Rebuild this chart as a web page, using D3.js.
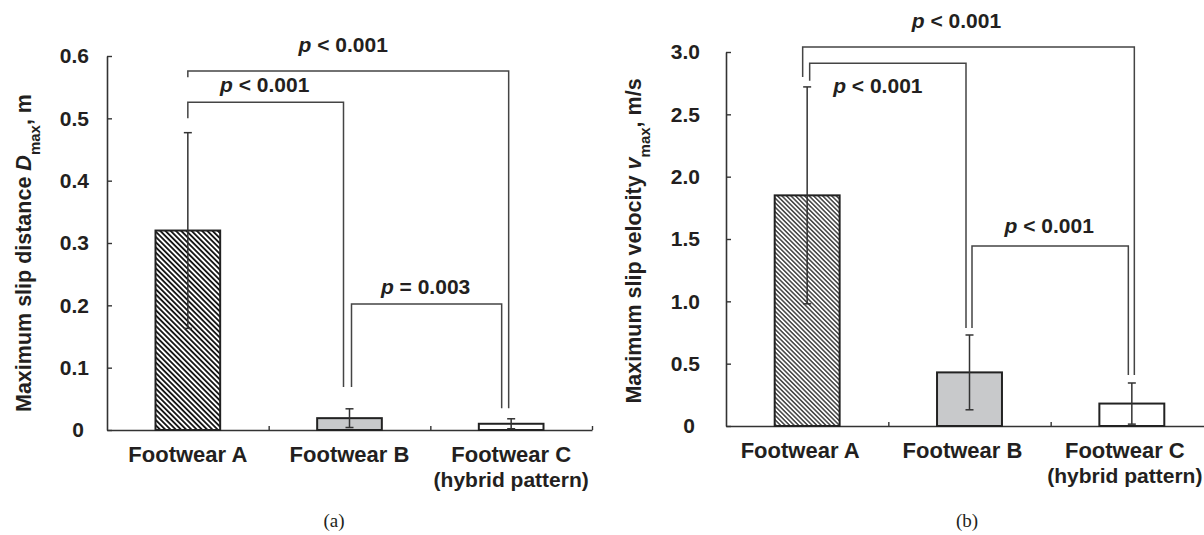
<!DOCTYPE html>
<html>
<head>
<meta charset="utf-8">
<script src="https://cdn.jsdelivr.net/npm/d3@7"></script>
<style>
  body { margin: 0; background: #fff; }
  text { font-family: "Liberation Sans", Arial, sans-serif; font-weight: bold; fill: #231f20; }
  .panel-tag { font-family: "Liberation Serif", "Times New Roman", serif; font-weight: normal; }
</style>
</head>
<body>
<div id="chart"></div>
<script>
// Data
const categories = ["Footwear A", "Footwear B", "Footwear C\n(hybrid pattern)"];

const distMean = [0.32, 0.019, 0.010];
const distSD = [0.157, 0.015, 0.008];
const distTicks = [0, 0.1, 0.2, 0.3, 0.4, 0.5, 0.6];

const velMean = [1.85, 0.43, 0.18];
const velSD = [0.87, 0.30, 0.165];
const velTicks = [0, 0.5, 1.0, 1.5, 2.0, 2.5, 3.0];

// significance brackets: from/to category index, height of bar line, leg end values, label
const distBrackets = [
  {from: 0, to: 2, top: 0.576, end1: 0.566, end2: 0.035, label: ["<", "0.001"]},
  {from: 0, to: 1, top: 0.526, end1: 0.50, end2: 0.069, label: ["<", "0.001"]},
  {from: 1, to: 2, top: 0.202, end1: 0.069, end2: 0.035, label: ["=", "0.003"]}
];
const velBrackets = [
  {from: 0, to: 2, top: 3.04, end1: 2.80, end2: 0.41, label: ["<", "0.001"]},
  {from: 0, to: 1, top: 2.91, end1: 2.77, end2: 0.786, label: ["<", "0.001"]},
  {from: 1, to: 2, top: 1.444, end1: 0.786, end2: 0.41, label: ["<", "0.001"]}
];

const W = 1204, H = 535;
const svg = d3.select("#chart").append("svg")
    .attr("width", W)
    .attr("height", H);

// hatch patterns for footwear A
const defs = svg.append("defs");
function hatch(id, size, sw) {
  defs.append("pattern")
      .attr("id", id)
      .attr("patternUnits", "userSpaceOnUse")
      .attr("width", size)
      .attr("height", size)
      .attr("patternTransform", "rotate(-45)")
    .append("line")
      .attr("x1", size / 2).attr("x2", size / 2)
      .attr("y1", 0).attr("y2", size)
      .attr("stroke", "#111")
      .attr("stroke-width", sw);
}
hatch("hatchA", 3.7, 1.8);
hatch("hatchB", 3.2, 1.2);

function panel(opt) {
  const g = svg.append("g");
  const x = d3.scaleBand().domain(categories).range(opt.xRange).padding(0);
  const y = d3.scaleLinear().domain(opt.yDomain).range(opt.yRange);
  const bw = x.bandwidth() * 0.4;
  const cx = c => x(c) + x.bandwidth() / 2;
  const fills = [`url(#${opt.hatch})`, "#c8c9cb", "#fff"];

  // y axis, ticks pointing inward
  const yAxis = g.append("g")
      .attr("transform", `translate(${opt.xRange[0]},0)`)
      .call(d3.axisLeft(y).tickValues(opt.ticks).tickSizeInner(-5).tickSizeOuter(0)
        .tickPadding(opt.tickPad).tickFormat(opt.fmt));
  yAxis.select(".domain").attr("stroke", "#333").attr("stroke-width", 1.6);
  yAxis.selectAll(".tick line").attr("stroke", "#333").attr("stroke-width", 1.4);
  yAxis.selectAll(".tick text")
      .style("font-size", "21px")
      .attr("dx", d => d === 0 ? -5 : 0);

  // x axis line with boundary ticks
  const xl = d3.scaleLinear().domain([0, categories.length]).range(opt.xRange);
  const xAxis = g.append("g")
      .attr("transform", `translate(0,${opt.yRange[0]})`)
      .call(d3.axisTop(xl).ticks(3).tickSizeInner(4).tickSizeOuter(0).tickFormat(""));
  xAxis.select(".domain").attr("stroke", "#333").attr("stroke-width", 1.6);
  xAxis.selectAll(".tick line").attr("stroke", "#333").attr("stroke-width", 1.4);
  xAxis.selectAll(".tick").filter(d => d === 0).remove();

  // category labels
  const lab = g.append("g")
      .attr("transform", `translate(${opt.labelDx},${opt.yRange[0]})`)
      .call(d3.axisBottom(x).tickSize(0).tickPadding(16));
  lab.select(".domain").remove();
  lab.selectAll(".tick text")
      .style("font-size", "22px")
      .text(null)
      .each(function(d) {
        const t = d3.select(this);
        d.split("\n").forEach((s, i) => {
          t.append("tspan")
              .attr("x", 0)
              .attr("dy", i === 0 ? "0.71em" : "1.2em")
              .style("font-size", i === 0 ? "22px" : "21px")
              .text(s);
        });
      });

  // bars
  g.selectAll(".bar")
    .data(categories)
    .join("rect")
      .attr("x", d => cx(d) - bw / 2)
      .attr("y", (d, i) => y(opt.mean[i]))
      .attr("width", bw)
      .attr("height", (d, i) => y(0) - y(opt.mean[i]))
      .attr("fill", (d, i) => fills[i])
      .attr("stroke", "#222")
      .attr("stroke-width", 2);

  // error bars
  const eb = g.selectAll(".err")
    .data(categories)
    .join("g")
      .attr("stroke", "#333")
      .attr("stroke-width", 1.5);
  eb.append("line")
      .attr("x1", d => cx(d)).attr("x2", d => cx(d))
      .attr("y1", (d, i) => y(opt.mean[i] + opt.sd[i]))
      .attr("y2", (d, i) => y(Math.max(0, opt.mean[i] - opt.sd[i])));
  [1, -1].forEach(s => {
    eb.append("line")
        .attr("x1", d => cx(d) - 4).attr("x2", d => cx(d) + 4)
        .attr("y1", (d, i) => y(Math.max(0, opt.mean[i] + s * opt.sd[i])))
        .attr("y2", (d, i) => y(Math.max(0, opt.mean[i] + s * opt.sd[i])));
  });

  // significance brackets
  opt.brackets.forEach((b, k) => {
    const lay = opt.bracketLayout[k];
    const x1 = cx(categories[b.from]) + lay.o1;
    const x2 = cx(categories[b.to]) + lay.o2;
    const path = d3.path();
    path.moveTo(x1, y(b.end1));
    path.lineTo(x1, y(b.top));
    path.lineTo(x2, y(b.top));
    path.lineTo(x2, y(b.end2));
    g.append("path")
        .attr("d", path.toString())
        .attr("fill", "none")
        .attr("stroke", "#444")
        .attr("stroke-width", 1.5);

    const t = g.append("text")
        .attr("x", (x1 + x2) / 2 + lay.dx)
        .attr("y", y(b.top) + lay.dy)
        .attr("text-anchor", "middle")
        .style("font-size", "21px");
    t.append("tspan").style("font-style", "italic").text("p");
    t.append("tspan").text(` ${b.label[0]} ${b.label[1]}`);
  });

  // y axis title
  const yt = g.append("text")
      .attr("transform", `translate(${opt.titleX},${opt.titleY}) rotate(-90)`)
      .attr("text-anchor", "middle")
      .style("font-size", "21.5px");
  yt.append("tspan").text(opt.title[0]);
  yt.append("tspan").style("font-style", "italic").text(opt.title[1]);
  yt.append("tspan").attr("baseline-shift", "sub").style("font-size", "15px").text("max");
  yt.append("tspan").text(opt.title[2]);

  // panel tag
  g.append("text")
      .attr("class", "panel-tag")
      .attr("x", opt.tagX)
      .attr("y", 527)
      .attr("text-anchor", "middle")
      .style("font-size", "19px")
      .text(opt.tag);
}

panel({
  xRange: [107, 592], yRange: [430, 56], yDomain: [0, 0.6],
  ticks: distTicks, fmt: d => d === 0 ? "0" : d3.format(".1f")(d), tickPad: 18,
  mean: distMean, sd: distSD, hatch: "hatchA", labelDx: 0,
  brackets: distBrackets,
  bracketLayout: [
    {o1: 0, o2: -2.5, dx: -5, dy: -19},
    {o1: 0, o2: -6, dx: -1, dy: -10},
    {o1: 2, o2: -9.5, dx: -1, dy: -10}
  ],
  title: ["Maximum slip distance ", "D", ", m"], titleX: 31, titleY: 253,
  tag: "(a)", tagX: 334
});

panel({
  xRange: [726, 1213], yRange: [426, 52], yDomain: [0, 3.0],
  ticks: velTicks, fmt: d => d === 0 ? "0" : d3.format(".1f")(d), tickPad: 26,
  mean: velMean, sd: velSD, hatch: "hatchB", labelDx: -7,
  brackets: velBrackets,
  bracketLayout: [
    {o1: -4.5, o2: 2.5, dx: -12, dy: -19},
    {o1: 2.5, o2: -3.5, dx: -10, dy: 30},
    {o1: 2.5, o2: -3.5, dx: -1, dy: -13}
  ],
  title: ["Maximum slip velocity ", "v", ", m/s"], titleX: 641, titleY: 241,
  tag: "(b)", tagX: 967
});
</script>
</body>
</html>
